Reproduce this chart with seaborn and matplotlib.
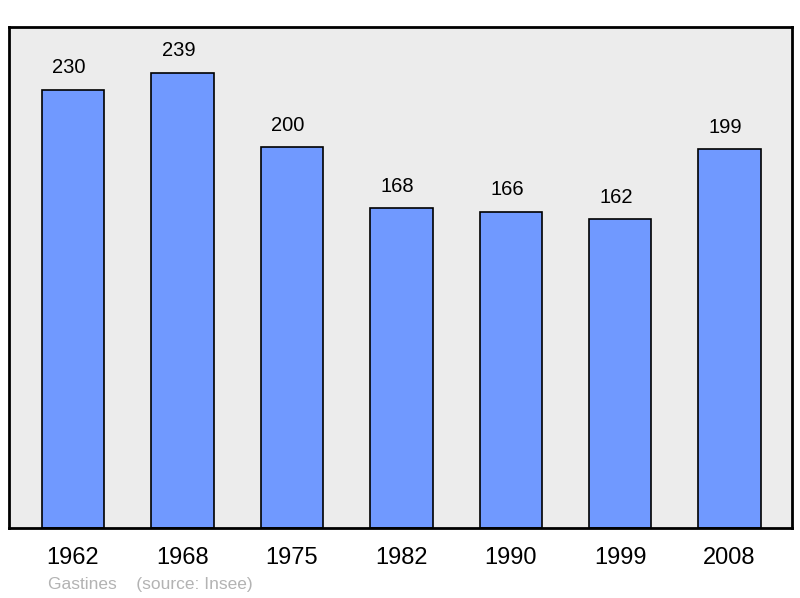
import matplotlib
matplotlib.use("Agg")
import matplotlib.pyplot as plt
import seaborn as sns
import pandas as pd

# Données : population de Gastines
annees = ["1962", "1968", "1975", "1982", "1990", "1999", "2008"]
population = [230, 239, 200, 168, 166, 162, 199]

df = pd.DataFrame({"annee": annees, "pop": population})

sns.set_style("white")
plt.rcParams['font.family'] = ['Liberation Sans', 'DejaVu Sans']

fig = plt.figure(figsize=(8, 5.98), dpi=100)
ax = fig.add_axes([9 / 800, 1 - 528 / 598, 783 / 800, 501 / 598])
ax.set_facecolor("#ececec")

sns.barplot(data=df, x="annee", y="pop", color="#7099ff", saturation=1,
            width=0.57, edgecolor="black", linewidth=1.2, ax=ax)

# étiquettes de valeurs, légèrement décalées à gauche comme dans l'original
for i, v in enumerate(population):
    ax.text(i - 0.035, v + 11.5, str(v), ha="center", va="center",
            fontsize=14.5, color="black")

ax.set_xlim(-0.585, 6.57)
ax.set_ylim(0, 263)
ax.set_yticks([])
ax.set_xlabel("")
ax.set_ylabel("")
ax.tick_params(axis="x", length=0, labelsize=17, pad=14, labelcolor="black")
for s in ax.spines.values():
    s.set_linewidth(2)
    s.set_color("black")

fig.text(48 / 800, 1 - 584 / 598, "Gastines    (source: Insee)", fontsize=12.5,
         color="#b3b3b3", va="center", ha="left")

fig.savefig("out.png", dpi=100)
